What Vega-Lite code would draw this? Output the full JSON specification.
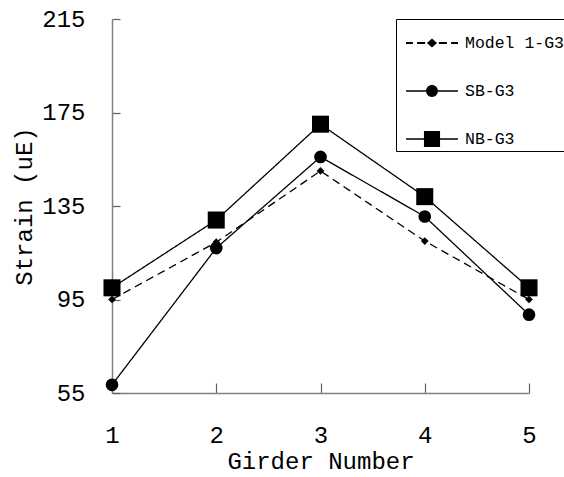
{
  "$schema": "https://vega.github.io/schema/vega-lite/v6.json",
  "width": 417,
  "height": 374,
  "autosize": {"type": "none"},
  "padding": {"left": 112, "top": 19, "right": 35, "bottom": 84},
  "background": "white",
  "config": {
    "view": {"stroke": null},
    "font": "Liberation Mono",
    "axis": {"grid": false, "domainColor": "#808080", "domainWidth": 1.5, "tickColor": "#606060", "tickWidth": 1.2,
      "labelFont": "Liberation Mono", "labelFontSize": 24, "labelColor": "black",
      "titleFont": "Liberation Mono", "titleFontSize": 24, "titleFontWeight": "normal", "titleColor": "black"}
  },
  "data": {"values": [
    {"girder": 1, "series": "Model 1-G3", "strain": 95},
    {"girder": 2, "series": "Model 1-G3", "strain": 119.5},
    {"girder": 3, "series": "Model 1-G3", "strain": 150},
    {"girder": 4, "series": "Model 1-G3", "strain": 120},
    {"girder": 5, "series": "Model 1-G3", "strain": 95},
    {"girder": 1, "series": "SB-G3", "strain": 58.5},
    {"girder": 2, "series": "SB-G3", "strain": 117},
    {"girder": 3, "series": "SB-G3", "strain": 156},
    {"girder": 4, "series": "SB-G3", "strain": 130.5},
    {"girder": 5, "series": "SB-G3", "strain": 88.5},
    {"girder": 1, "series": "NB-G3", "strain": 100},
    {"girder": 2, "series": "NB-G3", "strain": 129},
    {"girder": 3, "series": "NB-G3", "strain": 170},
    {"girder": 4, "series": "NB-G3", "strain": 139},
    {"girder": 5, "series": "NB-G3", "strain": 100}
  ]},
  "encoding": {
    "x": {"field": "girder", "type": "quantitative",
      "scale": {"domain": [1, 5], "nice": false, "zero": false},
      "axis": {"title": "Girder Number", "values": [1, 2, 3, 4, 5], "tickSize": -10, "labelPadding": 40, "titlePadding": 2, "labelFlush": false}},
    "y": {"field": "strain", "type": "quantitative",
      "scale": {"domain": [55, 215], "nice": false, "zero": false},
      "axis": {"title": "Strain (uE)", "values": [55, 95, 135, 175, 215], "tickSize": -8, "labelPadding": 35, "titlePadding": 5, "labelFlush": false}}
  },
  "layer": [
    {
      "mark": {"type": "line", "color": "black", "strokeWidth": 1.3},
      "encoding": {
        "detail": {"field": "series"},
        "strokeDash": {"condition": {"test": "datum.series === 'Model 1-G3'", "value": [8, 5]}, "value": [1, 0]}
      }
    },
    {
      "mark": {"type": "point", "filled": true, "color": "black", "opacity": 1},
      "encoding": {
        "size": {"condition": [
            {"test": "datum.series === 'NB-G3'", "value": 290},
            {"test": "datum.series === 'SB-G3'", "value": 160}
          ], "value": 60},
        "shape": {"condition": [
            {"test": "datum.series === 'NB-G3'", "value": "square"},
            {"test": "datum.series === 'SB-G3'", "value": "circle"}
          ], "value": "diamond"}
      }
    },
    {
      "mark": {"type": "point", "filled": true, "color": "black", "opacity": 0},
      "encoding": {
        "shape": {"field": "series", "type": "nominal",
          "scale": {"domain": ["Model 1-G3", "SB-G3", "NB-G3"],
            "range": [
              "M-1.13,-0.045H-0.83V0.045H-1.13ZM-0.65,-0.045H-0.3V0.045H-0.65ZM0.3,-0.045H0.65V0.045H0.3ZM0.83,-0.045H1.13V0.045H0.83ZM0,-0.2L0.22,0L0,0.2L-0.22,0Z",
              "M-1.13,-0.03H-0.26V0.03H-1.13ZM0.26,-0.03H1.13V0.03H0.26ZM-0.26,0A0.26,0.26,0,1,0,0.26,0A0.26,0.26,0,1,0,-0.26,0Z",
              "M-1.13,-0.03H-0.35V0.03H-1.13ZM0.35,-0.03H1.13V0.03H0.35ZM-0.35,-0.35H0.35V0.35H-0.35Z"
            ]},
          "legend": {
            "title": null,
            "orient": "none",
            "legendX": 284,
            "legendY": 0,
            "padding": 0,
            "strokeColor": "black",
            "fillColor": "white",
            "cornerRadius": 0,
            "symbolSize": 2116,
            "symbolOffset": 12,
            "symbolOpacity": 1,
            "symbolFillColor": "black",
            "labelOffset": 9,
            "labelFont": "Liberation Mono",
            "labelFontSize": 16.5,
            "labelColor": "black",
            "labelLimit": 300,
            "rowPadding": 15
          }
        }
      }
    }
  ]
}
